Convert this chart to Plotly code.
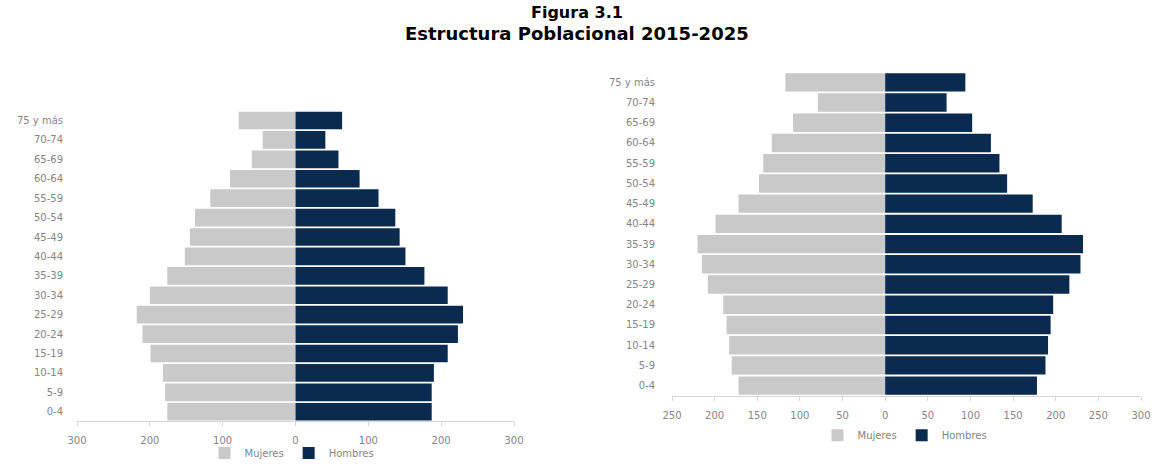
import plotly.graph_objects as go

# grupos de edad, de abajo (0-4) hacia arriba (75 y más)
grupos = ['0-4', '5-9', '10-14', '15-19', '20-24', '25-29', '30-34', '35-39',
          '40-44', '45-49', '50-54', '55-59', '60-64', '65-69', '70-74', '75 y más']

# 2015 (gráfico izquierdo)
mujeres_2015 = [176, 179, 182, 199, 210, 218, 200, 176, 152, 145, 138, 117, 90, 60, 45, 78]
hombres_2015 = [187, 187, 190, 209, 223, 230, 209, 177, 151, 143, 137, 114, 88, 59, 41, 64]

# 2025 (gráfico derecho)
mujeres_2025 = [172, 180, 183, 186, 190, 208, 215, 220, 199, 172, 148, 143, 133, 108, 79, 117]
hombres_2025 = [178, 188, 191, 194, 197, 216, 229, 232, 207, 173, 143, 134, 124, 102, 72, 94]

ticks_izq = [-300, -200, -100, 0, 100, 200, 300]
ticks_der = [-250, -200, -150, -100, -50, 0, 50, 100, 150, 200, 250, 300]

GRIS = '#c9c9c9'
AZUL = '#0b2a50'
W, H = 1154, 468

fig = go.Figure()

# piramide izquierda
fig.add_trace(go.Bar(y=grupos, x=[-v for v in mujeres_2015], orientation='h', name='Mujeres',
                     marker=dict(color=GRIS, line=dict(width=0)), xaxis='x', yaxis='y', legend='legend'))
fig.add_trace(go.Bar(y=grupos, x=hombres_2015, orientation='h', name='Hombres',
                     marker=dict(color=AZUL, line=dict(width=0)), xaxis='x', yaxis='y', legend='legend'))

# piramide derecha
fig.add_trace(go.Bar(y=grupos, x=[-v for v in mujeres_2025], orientation='h', name='Mujeres',
                     marker=dict(color=GRIS, line=dict(width=0)), xaxis='x2', yaxis='y2', legend='legend2'))
fig.add_trace(go.Bar(y=grupos, x=hombres_2025, orientation='h', name='Hombres',
                     marker=dict(color=AZUL, line=dict(width=0)), xaxis='x2', yaxis='y2', legend='legend2'))

tick_font = dict(family='DejaVu Sans', size=10, color='#858585')

def eje_x(dominio, rango, vals, anchor):
    return dict(domain=dominio, range=rango, tickvals=vals, ticktext=[str(abs(v)) for v in vals],
                showgrid=False, zeroline=False, showline=True, linecolor='#d6d6d6', linewidth=1,
                ticks='outside', ticklen=4, tickcolor='#d6d6d6', tickfont=tick_font,
                ticklabelstandoff=6, ticklabeloverflow='allow',
                anchor=anchor, fixedrange=True, automargin=False)

def eje_y(dominio, anchor, sep):
    return dict(domain=dominio, type='category', categoryorder='array', categoryarray=grupos,
                showgrid=False, zeroline=False, showline=False, ticks='', tickfont=tick_font,
                ticklabelstandoff=sep, anchor=anchor, fixedrange=True, automargin=False)

leg_font = dict(family='DejaVu Sans', size=10, color='#858585')

fig.update_layout(
    width=W, height=H,
    margin=dict(l=0, r=0, t=0, b=0),
    paper_bgcolor='white', plot_bgcolor='white',
    barmode='relative', bargap=0.09,
    xaxis=eje_x([77 / W, 514 / W], [-300, 300], ticks_izq, 'y'),
    yaxis=eje_y([(H - 426) / H, (H - 112) / H], 'x', 13),
    xaxis2=eje_x([672 / W, 1141 / W], [-250, 300], ticks_der, 'y2'),
    yaxis2=eje_y([(H - 400) / H, (H - 73) / H], 'x2', 16),
    legend=dict(orientation='h', x=292 / W, y=1 - 458 / H, xanchor='center', yanchor='middle',
                font=leg_font, itemwidth=30, bgcolor='rgba(0,0,0,0)'),
    legend2=dict(orientation='h', x=905 / W, y=1 - 440 / H, xanchor='center', yanchor='middle',
                 font=leg_font, itemwidth=30, bgcolor='rgba(0,0,0,0)'),
    annotations=[
        dict(text='<b>Figura 3.1</b>', x=0.5, y=1 - 12.5 / H, xref='paper', yref='paper',
             yanchor='middle', showarrow=False,
             font=dict(family='DejaVu Sans', size=16, color='black')),
        dict(text='<b>Estructura Poblacional 2015-2025</b>', x=0.5, y=1 - 33.5 / H, xref='paper',
             yref='paper', yanchor='middle', showarrow=False,
             font=dict(family='DejaVu Sans', size=18, color='black')),
    ],
)

# sin margen del body para que la figura ocupe exactamente la ventana
fig.write_html('out.html', config={'displayModeBar': False},
               post_script="document.body.style.margin='0';document.body.style.overflow='hidden';")
